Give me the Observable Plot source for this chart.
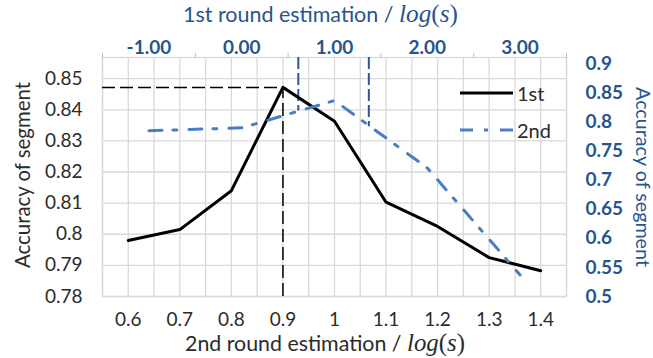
<!DOCTYPE html>
<html><head><meta charset="utf-8">
<script src="https://cdn.jsdelivr.net/npm/d3@7"></script>
<script src="https://cdn.jsdelivr.net/npm/@observablehq/plot@0.6"></script>
<style>
body{margin:0;background:#fff;}
#chart svg{display:block;}
</style></head><body><div id="chart"></div>
<script>
// ---- data ----
const xCats = [0.6, 0.7, 0.8, 0.9, 1.0, 1.1, 1.2, 1.3, 1.4];           // 2nd round estimation (bottom axis)
const firstVals = [0.798, 0.8015, 0.814, 0.8472, 0.8363, 0.8103, 0.8025, 0.7925, 0.7883]; // "1st" series, left axis
const topCats = [-1, 0, 1, 2, 3];                                      // 1st round estimation (top axis)
const secondVals = [0.785, 0.790, 0.837, 0.721, 0.537];                // "2nd" series, right axis
const leftTicks = [0.78, 0.79, 0.80, 0.81, 0.82, 0.83, 0.84, 0.85];
const rightTicks = [0.5, 0.55, 0.6, 0.65, 0.7, 0.75, 0.8, 0.85, 0.9];
const markerTop = [0.61, 1.37];     // blue drop-line positions on the top axis
const markerEnd = [0.819, 0.792];   // where they meet the 2nd curve (right axis)
const seriesNames = ["1st", "2nd"];
const xTitle = "2nd round estimation / ";
const topTitle = "1st round estimation / ";
const yTitle = "Accuracy of segment";

// ---- scales / mapping ----
const xDomain = [0.55, 1.45];
const yDomain = [0.78, 0.8568];
const rDomain = [0.5, 0.911];
const toLeft = d3.scaleLinear().domain(rDomain).range(yDomain);
const catW = (xDomain[1] - xDomain[0]) / topCats.length;
const topToX = t => xDomain[0] + (t - topCats[0] + 0.5) * catW;

const first = xCats.map((x, i) => ({x, y: firstVals[i]}));
const second = topCats.map((t, i) => ({x: topToX(t), y: toLeft(secondVals[i])}));
const peak = first[d3.maxIndex(first, d => d.y)];
const markers = markerTop.map((t, i) => ({x: topToX(t), y: toLeft(markerEnd[i])}));
const gridXs = d3.range(0, 19).map(i => xDomain[0] + i * 0.05);
const topBounds = d3.range(0, topCats.length + 1).map(i => xDomain[0] + i * catW);

const FONT = "Lato, 'Open Sans', sans-serif";
const SERIF = "'Liberation Serif', 'DejaVu Serif', serif";
const BLUE_TXT = "#26558f";
const BLUE_LINE = "#4a7ec4";
const GRID = "#d9d9d9";
const TXT = "#2b2b2b";

const W = 653, H = 358;
const chart = Plot.plot({
  width: W, height: H,
  marginLeft: 102, marginRight: 87, marginTop: 57, marginBottom: 62,
  style: {fontFamily: FONT, background: "#fff", overflow: "visible"},
  x: {domain: xDomain, axis: null},
  y: {domain: yDomain, axis: null},
  marks: [
    Plot.gridX(gridXs, {stroke: GRID, strokeOpacity: 1, strokeWidth: 1.3}),
    Plot.gridY(leftTicks, {stroke: GRID, strokeOpacity: 1, strokeWidth: 1.3}),
    Plot.frame({stroke: GRID, strokeWidth: 1.3}),
    Plot.axisX(topBounds, {anchor: "top", tickSize: 5, tickFormat: () => "", stroke: "#bfbfbf", label: null}),
    Plot.axisX(topCats.map(topToX), {anchor: "top", tickSize: 0, tickPadding: 4, label: null,
      tickFormat: d => topCats[Math.round((d - xDomain[0]) / catW - 0.5)].toFixed(2),
      fill: BLUE_TXT, fontWeight: "bold", fontSize: 19}),
    Plot.axisX(xCats, {anchor: "bottom", tickSize: 0, tickPadding: 16, label: null,
      tickFormat: d => String(d), fill: TXT, fontSize: 19}),
    Plot.axisY(leftTicks, {anchor: "left", tickSize: 0, tickPadding: 20, label: null,
      tickFormat: d => String(d), fill: TXT, fontSize: 19}),
    Plot.axisY(rightTicks.map(toLeft), {anchor: "right", tickSize: 0, tickPadding: 19, label: null,
      tickFormat: d => String(+toLeft.invert(d).toFixed(2)), fill: BLUE_TXT, fontWeight: "bold", fontSize: 19}),
    Plot.ruleY([peak], {y: "y", x1: xDomain[0], x2: "x", stroke: "#000", strokeWidth: 1.5, strokeDasharray: "13,5"}),
    Plot.ruleX([peak], {x: "x", y1: yDomain[0], y2: "y", stroke: "#000", strokeWidth: 1.5, strokeDasharray: "13,5"}),
    Plot.ruleX(markers, {x: "x", y1: yDomain[1], y2: "y", stroke: "#2f5597", strokeWidth: 2, strokeDasharray: "12,4"}),
    Plot.line(first, {x: "x", y: "y", stroke: "#000", strokeWidth: 3}),
    Plot.line(second, {x: "x", y: "y", stroke: BLUE_LINE, strokeWidth: 3, strokeDasharray: "13,11,4,12"})
  ]
});
document.getElementById("chart").appendChild(chart);

// ---- titles and legend ----
const svg = d3.select(chart);
function fit(sel, target, base) {
  const w = sel.node().getComputedTextLength();
  const k = target / w;
  sel.style("font-size", (base * k) + "px");
}
function mathTitle(x, y, pre, color, preW, mathW) {
  const a = svg.append("text").attr("x", x).attr("y", y).attr("text-anchor", "start")
    .attr("fill", color).style("font-family", FONT).style("font-size", "20px").text(pre);
  fit(a, preW, 20);
  const b = svg.append("text").attr("x", x + preW).attr("y", y).attr("text-anchor", "start")
    .attr("fill", color).style("font-family", SERIF).style("font-size", "20px");
  b.append("tspan").style("font-style", "italic").text("log");
  b.append("tspan").text("(");
  b.append("tspan").style("font-style", "italic").text("s");
  b.append("tspan").text(")");
  fit(b, mathW, 20);
}
mathTitle(183, 22, topTitle, BLUE_TXT, 216, 59);
mathTitle(185, 351, xTitle, TXT, 222, 58);

const lt = svg.append("text").attr("transform", "translate(22,175) rotate(-90)").attr("text-anchor", "middle")
  .attr("dominant-baseline", "central").attr("fill", TXT).style("font-family", FONT).style("font-size", "19px").text(yTitle);
fit(lt, 186, 19);
const rt = svg.append("text").attr("transform", "translate(643,177) rotate(90)").attr("text-anchor", "middle")
  .attr("dominant-baseline", "central").attr("fill", BLUE_TXT).style("font-family", FONT).style("font-size", "19px").text(yTitle);
fit(rt, 180, 19);

const legendStyles = [
  {stroke: "#000", dash: null},
  {stroke: BLUE_LINE, dash: "13,11,4,12"}
];
seriesNames.forEach((name, i) => {
  const y = 93 + i * 37;
  const l = svg.append("line").attr("x1", 460).attr("x2", 513).attr("y1", y).attr("y2", y)
    .attr("stroke", legendStyles[i].stroke).attr("stroke-width", 3);
  if (legendStyles[i].dash) l.attr("stroke-dasharray", legendStyles[i].dash);
  svg.append("text").attr("x", 517).attr("y", y).attr("text-anchor", "start").attr("dominant-baseline", "central")
    .attr("fill", TXT).style("font-family", FONT).style("font-size", "20px").text(name);
});
</script></body></html>
